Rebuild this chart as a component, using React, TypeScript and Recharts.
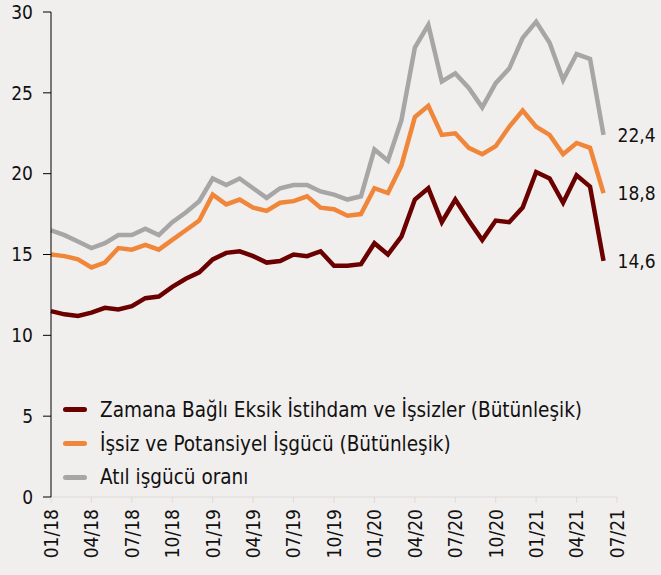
import React from 'react'
import { LineChart, Line, XAxis, YAxis, Legend } from 'recharts'

const months = [
  '01/18', '02/18', '03/18', '04/18', '05/18', '06/18', '07/18', '08/18', '09/18', '10/18', '11/18', '12/18',
  '01/19', '02/19', '03/19', '04/19', '05/19', '06/19', '07/19', '08/19', '09/19', '10/19', '11/19', '12/19',
  '01/20', '02/20', '03/20', '04/20', '05/20', '06/20', '07/20', '08/20', '09/20', '10/20', '11/20', '12/20',
  '01/21', '02/21', '03/21', '04/21', '05/21', '06/21', '07/21'
]

// Zamana Bağlı Eksik İstihdam ve İşsizler
const zamanaBagli = [
  11.5, 11.3, 11.2, 11.4, 11.7, 11.6, 11.8, 12.3, 12.4, 13.0, 13.5, 13.9,
  14.7, 15.1, 15.2, 14.9, 14.5, 14.6, 15.0, 14.9, 15.2, 14.3, 14.3, 14.4,
  15.7, 15.0, 16.1, 18.4, 19.1, 17.0, 18.4, 17.1, 15.9, 17.1, 17.0, 17.9,
  20.1, 19.7, 18.2, 19.9, 19.2, 14.6
]

// İşsiz ve Potansiyel İşgücü
const issizPotansiyel = [
  15.0, 14.9, 14.7, 14.2, 14.5, 15.4, 15.3, 15.6, 15.3, 15.9, 16.5, 17.1,
  18.7, 18.1, 18.4, 17.9, 17.7, 18.2, 18.3, 18.6, 17.9, 17.8, 17.4, 17.5,
  19.1, 18.8, 20.5, 23.5, 24.2, 22.4, 22.5, 21.6, 21.2, 21.7, 22.9, 23.9,
  22.9, 22.4, 21.2, 21.9, 21.6, 18.8
]

// Atıl işgücü oranı
const atilIsgucu = [
  16.5, 16.2, 15.8, 15.4, 15.7, 16.2, 16.2, 16.6, 16.2, 17.0, 17.6, 18.3,
  19.7, 19.3, 19.7, 19.1, 18.5, 19.1, 19.3, 19.3, 18.9, 18.7, 18.4, 18.6,
  21.5, 20.8, 23.3, 27.8, 29.2, 25.7, 26.2, 25.3, 24.1, 25.6, 26.5, 28.4,
  29.4, 28.1, 25.8, 27.4, 27.1, 22.4
]

const seriesNames = [
  'Zamana Bağlı Eksik İstihdam ve İşsizler (Bütünleşik)',
  'İşsiz ve Potansiyel İşgücü (Bütünleşik)',
  'Atıl işgücü oranı'
]

const yTicks = [0, 5, 10, 15, 20, 25, 30]

const data = months.map((m, i) => ({
  month: m,
  zaman: zamanaBagli[i] ?? null,
  issiz: issizPotansiyel[i] ?? null,
  atil: atilIsgucu[i] ?? null
}))

const lastIndex = zamanaBagli.length - 1
const FONT = "'DejaVu Sans Condensed', 'DejaVu Sans', sans-serif"

const endLabel = (props: any) => {
  const { x, y, index, value } = props
  if (index !== lastIndex || value == null) return <g />
  return (
    <text x={x + 14} y={y} dy="0.36em" fontSize={19} fontFamily={FONT} fill="#111">
      {Number(value).toFixed(1).replace('.', ',')}
    </text>
  )
}

const XTick = ({ x, y, payload }: any) => (
  <text
    transform={`translate(${x},${y}) rotate(-90)`}
    textAnchor="end"
    dy="0.36em"
    fontSize={19}
    fontFamily={FONT}
    fill="#111"
  >
    {payload.value}
  </text>
)

// keep legend rows in the original order
const LegendBox = ({ payload }: any) => {
  const items = [...(payload || [])].sort(
    (a: any, b: any) => seriesNames.indexOf(a.value) - seriesNames.indexOf(b.value)
  )
  return (
    <div style={{ fontFamily: FONT, fontSize: 20.5, color: '#111' }}>
      {items.map((item: any) => (
        <div key={item.value} style={{ display: 'flex', alignItems: 'center', height: 33.7 }}>
          <span
            style={{
              display: 'inline-block',
              width: 24,
              height: 5,
              borderRadius: 3,
              background: item.color,
              marginRight: 13
            }}
          />
          <span>{item.value}</span>
        </div>
      ))}
    </div>
  )
}

export default function App() {
  return (
    <div style={{ position: 'absolute', left: 0, top: 0, width: 661, height: 575, background: '#F1EFEE' }}>
      <LineChart width={661} height={575} data={data} margin={{ top: 12, right: 44, bottom: 0, left: 0 }}>
        <XAxis
          dataKey="month"
          interval={2}
          height={78}
          tick={<XTick />}
          tickSize={6}
          tickMargin={6}
          stroke="#DDDBDA"
          axisLine={{ stroke: '#DDDBDA' }}
          tickLine={{ stroke: '#DDDBDA' }}
        />
        <YAxis
          domain={[0, 30]}
          ticks={yTicks}
          width={51}
          tickSize={8}
          tickMargin={10}
          stroke="#000"
          tick={{ fill: '#111', fontSize: 19, fontFamily: FONT }}
        />
        <Legend
          layout="vertical"
          align="center"
          verticalAlign="middle"
          wrapperStyle={{ left: 63, top: 393, width: 'auto' }}
          content={<LegendBox />}
        />
        <Line
          name={seriesNames[0]}
          dataKey="zaman"
          stroke="#6B0000"
          strokeWidth={4.5}
          dot={false}
          isAnimationActive={false}
          label={endLabel}
        />
        <Line
          name={seriesNames[1]}
          dataKey="issiz"
          stroke="#F0863A"
          strokeWidth={4.5}
          dot={false}
          isAnimationActive={false}
          label={endLabel}
        />
        <Line
          name={seriesNames[2]}
          dataKey="atil"
          stroke="#A6A6A6"
          strokeWidth={4.5}
          dot={false}
          isAnimationActive={false}
          label={endLabel}
        />
      </LineChart>
    </div>
  )
}
